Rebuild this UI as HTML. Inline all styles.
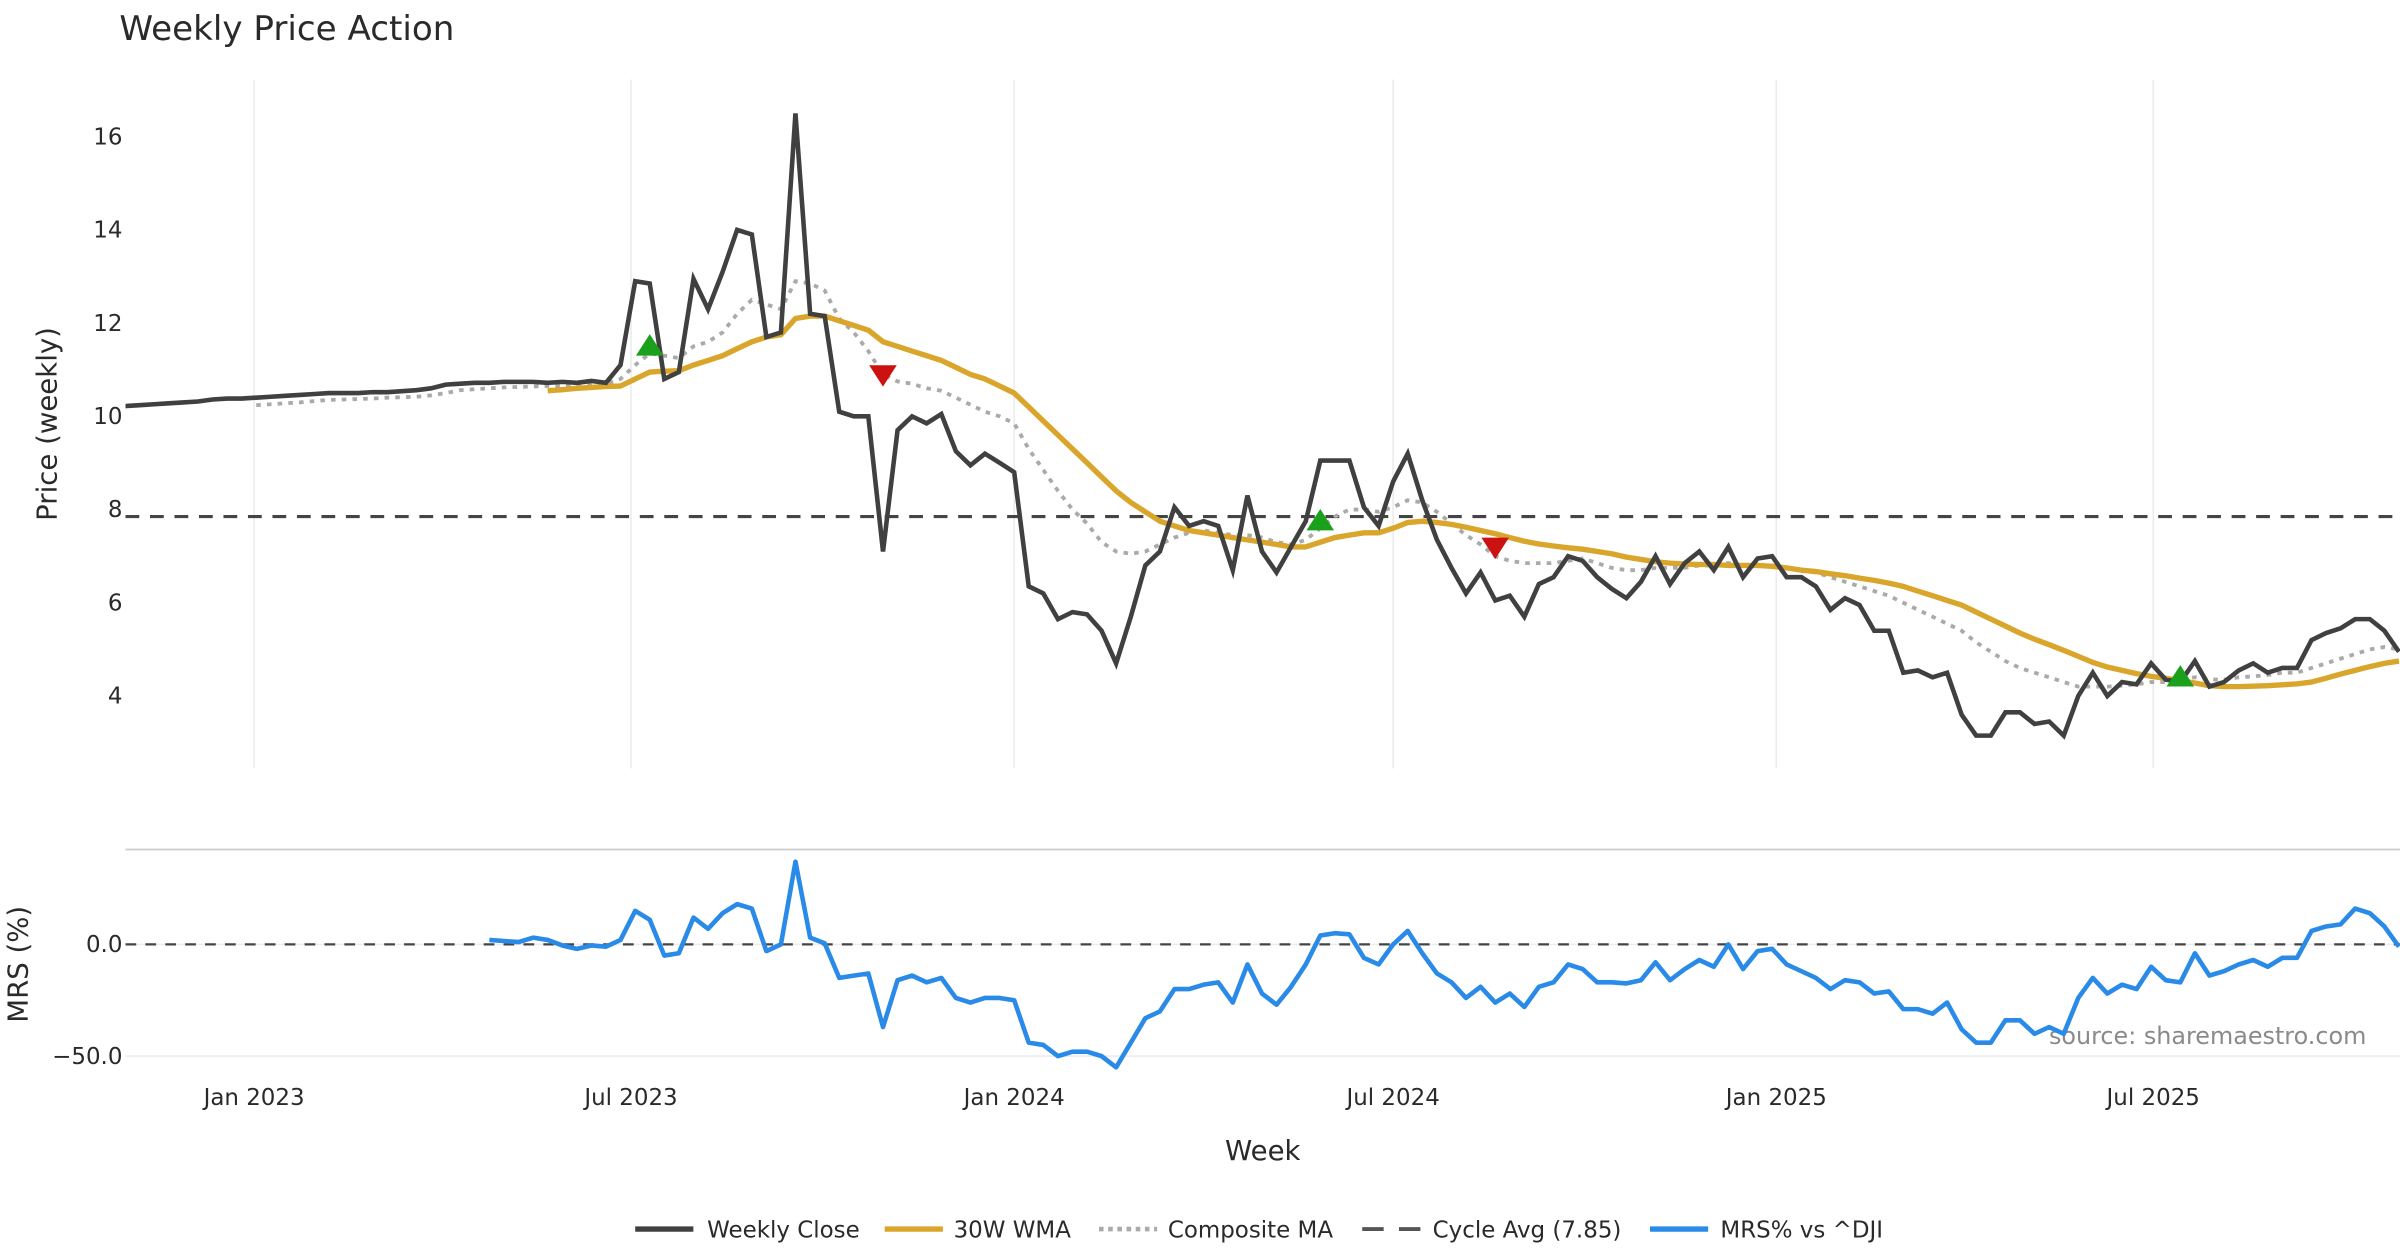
<!DOCTYPE html>
<html><head><meta charset="utf-8"><style>
html,body{margin:0;padding:0;background:#fff;}
svg{display:block;font-family:"DejaVu Sans","Liberation Sans",sans-serif;}
</style></head><body>
<svg id="chart" width="2400" height="1260" viewBox="0 0 1568 823.2" xmlns="http://www.w3.org/2000/svg">
<rect x="0" y="0" width="1568" height="823.2" fill="#fff"/>
<text x="78" y="26" font-size="22.3" fill="#2a2a2a">Weekly Price Action</text>
<g id="grid"></g>
<g id="axes"></g>
<g id="series"></g>
<g id="legend"></g>
</svg>
<script>
const startDate = new Date(Date.UTC(2022,9,31));
const closeVals = [10.22,10.24,10.26,10.28,10.3,10.32,10.36,10.38,10.38,10.4,10.42,10.44,10.46,10.48,10.5,10.5,10.5,10.52,10.52,10.54,10.56,10.6,10.68,10.7,10.72,10.72,10.74,10.74,10.74,10.72,10.74,10.72,10.76,10.72,11.1,12.9,12.85,10.8,10.95,12.95,12.3,13.1,14.0,13.9,11.7,11.8,16.5,12.2,12.15,10.1,10.0,10.0,7.1,9.7,10.0,9.85,10.05,9.25,8.95,9.2,9.0,8.8,6.35,6.2,5.65,5.8,5.75,5.4,4.7,5.7,6.8,7.1,8.05,7.65,7.75,7.65,6.7,8.3,7.1,6.65,7.2,7.75,9.05,9.05,9.05,8.05,7.65,8.6,9.2,8.2,7.35,6.75,6.2,6.65,6.05,6.15,5.7,6.4,6.55,7.0,6.9,6.55,6.3,6.1,6.45,7.0,6.4,6.85,7.1,6.7,7.2,6.55,6.95,7.0,6.55,6.55,6.35,5.85,6.1,5.95,5.4,5.4,4.5,4.55,4.4,4.5,3.6,3.15,3.15,3.65,3.65,3.4,3.45,3.15,4.0,4.5,4.0,4.3,4.25,4.7,4.35,4.3,4.75,4.2,4.3,4.55,4.7,4.5,4.6,4.6,5.2,5.35,5.45,5.65,5.65,5.4,4.95];
const wmaStart = 29;
const wmaVals = [10.55,10.57,10.6,10.62,10.64,10.65,10.8,10.95,10.97,10.98,11.1,11.2,11.3,11.45,11.6,11.7,11.75,12.1,12.15,12.15,12.05,11.95,11.85,11.6,11.5,11.4,11.3,11.2,11.05,10.9,10.8,10.65,10.5,10.2,9.9,9.6,9.3,9.0,8.7,8.4,8.15,7.95,7.75,7.65,7.55,7.5,7.45,7.4,7.35,7.3,7.25,7.2,7.2,7.3,7.4,7.45,7.5,7.5,7.6,7.72,7.75,7.72,7.68,7.62,7.55,7.48,7.4,7.32,7.26,7.22,7.18,7.15,7.1,7.05,6.98,6.93,6.88,6.85,6.83,6.82,6.82,6.8,6.8,6.8,6.78,6.75,6.7,6.67,6.62,6.58,6.53,6.48,6.42,6.35,6.25,6.15,6.05,5.95,5.8,5.65,5.5,5.35,5.22,5.1,4.98,4.85,4.72,4.62,4.55,4.48,4.42,4.38,4.33,4.28,4.22,4.2,4.2,4.21,4.22,4.24,4.26,4.3,4.38,4.47,4.55,4.63,4.7,4.75];
const compStart = 9;
const compVals = [10.24,10.26,10.28,10.3,10.33,10.35,10.36,10.37,10.38,10.4,10.41,10.42,10.45,10.5,10.56,10.58,10.6,10.62,10.63,10.64,10.65,10.66,10.66,10.67,10.7,10.8,11.1,11.35,11.3,11.25,11.5,11.6,11.8,12.2,12.5,12.4,12.3,12.9,12.85,12.7,12.1,11.8,11.4,10.9,10.75,10.7,10.6,10.55,10.4,10.25,10.1,10.0,9.85,9.3,8.85,8.4,8.0,7.7,7.3,7.1,7.05,7.1,7.25,7.4,7.5,7.55,7.5,7.45,7.45,7.4,7.3,7.25,7.35,7.6,7.85,8.0,8.0,7.95,8.05,8.2,8.15,7.95,7.7,7.45,7.25,7.0,6.9,6.85,6.85,6.85,6.9,6.95,6.85,6.75,6.7,6.7,6.75,6.75,6.75,6.8,6.8,6.85,6.8,6.8,6.8,6.75,6.7,6.65,6.55,6.45,6.35,6.25,6.15,6.0,5.85,5.7,5.55,5.4,5.15,4.95,4.75,4.6,4.5,4.4,4.3,4.2,4.2,4.2,4.22,4.25,4.3,4.3,4.35,4.4,4.35,4.35,4.4,4.42,4.45,4.5,4.5,4.6,4.7,4.8,4.9,5.0,5.05,5.0];
const cycleAvg = 7.85;
const mrsStart = 25;
const mrsVals = [2,1.5,1,3,2,-0.5,-2,-0.5,-1,2,15,11,-5,-4,12,7,14,18,16,-3,0,37,3,0.5,-15,-14,-13,-37,-16,-14,-17,-15,-24,-26,-24,-24,-25,-44,-45,-50,-48,-48,-50,-55,-44,-33,-30,-20,-20,-18,-17,-26,-9,-22,-27,-19,-9,4,5,4.5,-6,-9,0,6,-4,-13,-17,-24,-19,-26,-22,-28,-19,-17,-9,-11,-17,-17,-17.5,-16,-8,-16,-11,-7,-10,0,-11,-3,-2,-9,-12,-15,-20,-16,-17,-22,-21,-29,-29,-31,-26,-38,-44,-44,-34,-34,-40,-37,-40,-24,-15,-22,-18,-20,-10,-16,-17,-4,-14,-12,-9,-7,-10,-6,-6,6,8,9,16,14,8,-1];
const buyWeeks = [36,82,141];
const buyVals = [11.5,7.75,4.4];
const sellWeeks = [52,94];
const sellVals = [10.9,7.2];
const priceTicks = [4,6,8,10,12,14,16];
const mrsTicks = [0,-50];
const mrsTickLabels = ["0.0","\u221250.0"];
const xTickDates = ["2023-01-01","2023-07-01","2024-01-01","2024-07-01","2025-01-01","2025-07-01"];
const xTickLabels = ["Jan 2023","Jul 2023","Jan 2024","Jul 2024","Jan 2025","Jul 2025"];

const NS="http://www.w3.org/2000/svg";
const X0=82, X1=1568;
const dayMs=86400000;
function xDate(d){return 166 + (d - Date.UTC(2023,0,1))/dayMs*1.3605;}
function xWeek(i){return xDate(startDate.getTime()+i*7*dayMs);}
function yP(v){return 272-(v-10)*30.45;}
function yM(v){return 617-v*1.46;}
function mk(tag,attrs,parent){const e=document.createElementNS(NS,tag);for(const k in attrs)e.setAttribute(k,attrs[k]);parent.appendChild(e);return e;}
const grid=document.getElementById('grid'),axes=document.getElementById('axes'),ser=document.getElementById('series'),leg=document.getElementById('legend');

const defs=mk('defs',{},document.getElementById('chart'));
const cp=mk('clipPath',{id:'cp'},defs);mk('rect',{x:X0,y:40,width:X1-X0,height:480},cp);
const cm=mk('clipPath',{id:'cm'},defs);mk('rect',{x:X0,y:556,width:X1-X0,height:160},cm);

xTickDates.forEach((d,k)=>{
  const [y,m,dd]=d.split('-').map(Number);const x=xDate(Date.UTC(y,m-1,dd));
  const gl=mk('line',{x1:x,x2:x,y1:52,y2:502,stroke:'#ebebeb','stroke-width':1},grid);
  
  
  const t=mk('text',{x:x,y:722,'font-size':15,fill:'#2a2a2a','text-anchor':'middle'},axes);
  t.textContent=xTickLabels[k];
  
  
});
priceTicks.forEach(v=>{
  const t=mk('text',{x:80,y:yP(v)+5,'font-size':15,fill:'#2a2a2a','text-anchor':'end'},axes);
  t.textContent=String(v);
  
  
});
mrsTicks.forEach((v,k)=>{
  const gl=mk('line',{x1:X0,x2:X1,y1:yM(v),y2:yM(v),stroke:'#ebebf0','stroke-width':1},grid);
  
  
  const t=mk('text',{x:80,y:yM(v)+5,'font-size':15,fill:'#2a2a2a','text-anchor':'end'},axes);
  t.textContent=mrsTickLabels[k];
  
  
});
const sep=mk('line',{x1:X0,x2:X1,y1:555,y2:555,stroke:'#cccccc','stroke-width':1.2},axes);


let t;
t=mk('text',{x:0,y:0,'font-size':18,fill:'#2a2a2a','text-anchor':'middle',transform:'translate(37,277) rotate(-90)'},axes);t.textContent='Price (weekly)';


t=mk('text',{x:0,y:0,'font-size':18,fill:'#2a2a2a','text-anchor':'middle',transform:'translate(18,630) rotate(-90)'},axes);t.textContent='MRS (%)';


t=mk('text',{x:825,y:758,'font-size':18,fill:'#2a2a2a','text-anchor':'middle'},axes);t.textContent='Week';


t=mk('text',{x:1546,y:682,'font-size':15.6,fill:'#8a8a8a','text-anchor':'end'},axes);t.textContent='source: sharemaestro.com';



function path(vals,start,yf){return vals.map((v,i)=>(i?'L':'M')+xWeek(start+i).toFixed(1)+','+yf(v).toFixed(1)).join('');}
const gP=mk('g',{'clip-path':'url(#cp)'},ser), gM=mk('g',{'clip-path':'url(#cm)'},ser);
let el;
el=mk('line',{x1:X0,x2:X1,y1:yP(cycleAvg),y2:yP(cycleAvg),stroke:'#444','stroke-width':2,'stroke-dasharray':'9,7'},gP);


el=mk('path',{d:path(compVals,compStart,yP),fill:'none',stroke:'#aaaaaa','stroke-width':2.5,'stroke-dasharray':'3,4'},gP);


el=mk('path',{d:path(wmaVals,wmaStart,yP),fill:'none',stroke:'#d9a52a','stroke-width':3.5,'stroke-linejoin':'round'},gP);


el=mk('path',{d:path(closeVals,0,yP),fill:'none',stroke:'#404040','stroke-width':3,'stroke-linejoin':'miter'},gP);


buyWeeks.forEach((w,k)=>{const x=xWeek(w),y=yP(buyVals[k]);
  const m=mk('polygon',{points:`${x-9},${y+6} ${x+9},${y+6} ${x},${y-8}`,fill:'#1aa01a'},gP);
  
  });
sellWeeks.forEach((w,k)=>{const x=xWeek(w),y=yP(sellVals[k]);
  const m=mk('polygon',{points:`${x-9},${y-6} ${x+9},${y-6} ${x},${y+8}`,fill:'#cc1111'},gP);
  
  });
el=mk('line',{x1:X0,x2:X1,y1:yM(0),y2:yM(0),stroke:'#444','stroke-width':1.5,'stroke-dasharray':'7,6'},gM);


el=mk('path',{d:path(mrsVals,mrsStart,yM),fill:'none',stroke:'#2a8ae8','stroke-width':3,'stroke-linejoin':'round'},gM);



const legItems=[["Weekly Close",415,462,{stroke:'#404040','stroke-width':3.5}],["30W WMA",578,623,{stroke:'#d9a52a','stroke-width':3.5}],["Composite MA",718,763,{stroke:'#aaaaaa','stroke-width':3,'stroke-dasharray':'3,3'}],["Cycle Avg (7.85)",890,936,{stroke:'#555','stroke-width':2.5,'stroke-dasharray':'14,10'}],["MRS% vs ^DJI",1078,1124,{stroke:'#2a8ae8','stroke-width':3.5}]];
legItems.forEach(it=>{
  const g=mk('g',{},leg);
  
  
  mk('line',Object.assign({x1:it[1],x2:it[1]+38,y1:803,y2:803},it[3]),g);
  const tt=mk('text',{x:it[2],y:808.5,'font-size':15,fill:'#2a2a2a'},g);tt.textContent=it[0];
});
</script>
</body></html>
